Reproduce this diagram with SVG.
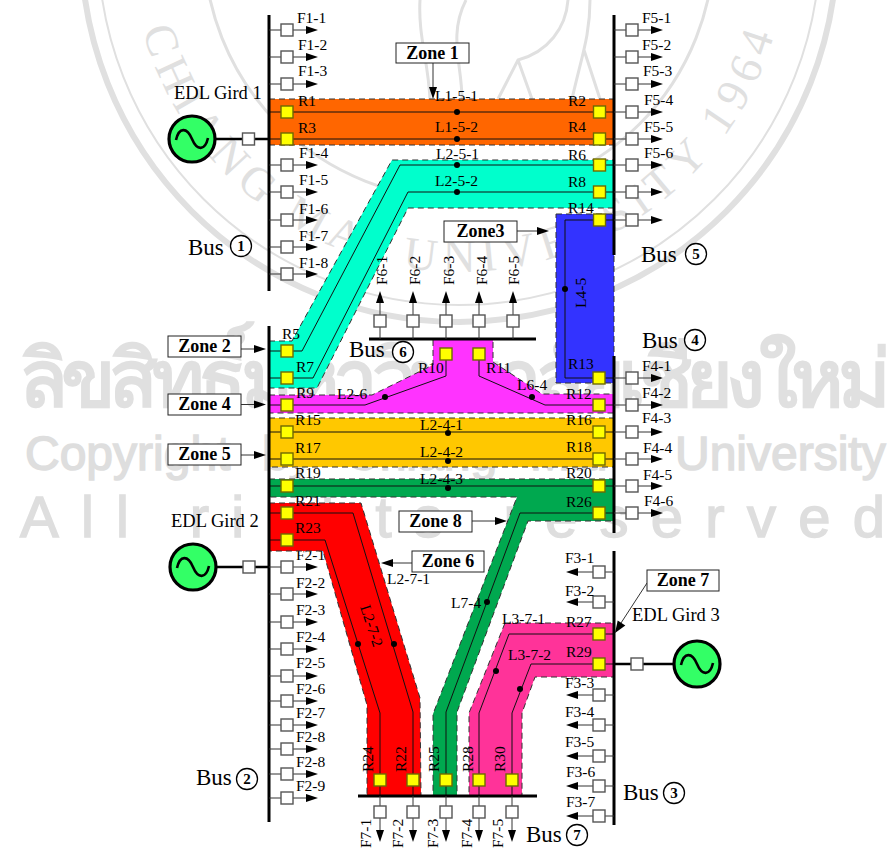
<svg xmlns="http://www.w3.org/2000/svg" width="889" height="848" viewBox="0 0 889 848">
<style>
text{font-family:"Liberation Serif","Times New Roman",serif;fill:#000}
.t{font-size:15.500px}
.e{font-size:18.500px}
.b{font-size:23px}
.z{font-size:18px;font-weight:bold;text-anchor:middle}
.n{font-size:15px;font-weight:bold;text-anchor:middle}
.c{fill:#fff;stroke:#000;stroke-width:1.3}
.bus{stroke:#000;stroke-width:3;fill:none}
.gl{stroke:#000;stroke-width:2.5;fill:none}
.ln{stroke:#111;stroke-width:1;fill:none}
.st{stroke:#333;stroke-width:1;fill:none}
.box{fill:#fff;stroke:#555;stroke-width:1.4}
.rel{fill:#ff0;stroke:#6e6a00;stroke-width:1.4}
.zn{stroke:#333;stroke-width:1;stroke-dasharray:6 4}
.zb{fill:#fff;stroke:#222;stroke-width:1}
.gen{fill:#3f6;stroke:#000;stroke-width:3.2}
.sin{fill:none;stroke:#000;stroke-width:2.6}
.wr{fill:none;stroke:#e0e0e0}
.ws{font-family:"Liberation Sans",Arial,sans-serif;fill:#dedede;stroke:#dedede;stroke-width:1.500}
.dot{fill:#000}
</style>
<defs>
<g id="fr"><path class="st" d="M0 0H12M24 0H37"/><rect class="box" x="12" y="-6" width="12" height="12"/><polygon points="37,-4 49,0 37,4"/></g>
<g id="fl"><path class="st" d="M0 0H-9M-21 0H-36"/><rect class="box" x="-21" y="-6" width="12" height="12"/><polygon points="-36,-4 -48,0 -36,4"/></g>
<g id="fu"><path class="st" d="M0 0V-12M0 -24V-36"/><rect class="box" x="-6" y="-24" width="12" height="12"/><polygon points="-4,-36 0,-48 4,-36"/></g>
<g id="fd"><path class="st" d="M0 0V10M0 22V34"/><rect class="box" x="-6" y="10" width="12" height="12"/><polygon points="-4,34 0,46 4,34"/></g>
<rect id="r" class="rel" x="-6" y="-6" width="12" height="12"/>
<rect id="bx" class="box" x="-6" y="-6" width="12" height="12"/>
<circle id="d" class="dot" r="3"/>
<g id="g"><circle class="gen" r="23"/><path class="sin" d="M-16 1C-13 -12 -5 -12 0 0S13 12 16 -1"/></g>
<path id="sealArc" d="M142.500 30A328 328 0 0 0 775.500 30"/>
</defs>
<rect width="889" height="848" fill="#fff"/>
<g id="watermark">
<circle class="wr" cx="459" cy="-56" r="378" stroke-width="6"/>
<circle class="wr" cx="459" cy="-56" r="361" stroke-width="2"/>
<circle class="wr" cx="459" cy="-56" r="255" stroke-width="3"/>
<path class="wr" stroke-width="3" d="M568 0C566 28 548 52 518 60L498 99M518 60L532 99M590 0C590 35 582 55 572 99M584 50L600 99M420 0C418 35 428 60 430 99M466 0C448 35 462 65 462 99"/>
<text style="font-size:46px;fill:#e0e0e0"><textPath href="#sealArc" textLength="850" lengthAdjust="spacing">CHIANG MAI UNIVERSITY 1964</textPath></text>
<text x="12" y="407" textLength="872" lengthAdjust="spacing" style="font-family:'Noto Sans','Noto Sans CJK SC',sans-serif;font-size:80px;font-weight:bold;fill:#e0e0e0">ลิขสิทธิ์มหาวิทยาลัยเชียงใหม่</text>
<text class="ws" y="470" style="font-size:48px"><tspan x="25">Copyright</tspan><tspan x="262">by</tspan><tspan x="345">Chiang</tspan><tspan x="530">Mai</tspan><tspan x="675">University</tspan></text>
<text class="ws" x="20" y="537" textLength="865" lengthAdjust="spacing" style="font-size:58px">All rights reserved</text>
</g>
<g id="label-F2-1"><text class="t" x="296" y="560">F2-1</text></g>
<g id="zones">
<g id="zone1-area"><polygon class="zn" fill="#ff6600" points="269,99 614,99 614,145 269,145"/></g>
<g id="zone2-area"><polygon class="zn" fill="#00ffcc" points="269,341 292,341 392,160 614,160 614,208 408,208 317,388 269,388"/></g>
<g id="zone3-area"><polygon class="zn" fill="#3333ff" points="556,214 614,214 614,383 556,383"/></g>
<g id="zone4-area"><polygon class="zn" fill="#ff33ff" points="269,395 372,395 433,365 433,339 493,339 493,362 542,394 614,394 614,413 269,413"/></g>
<g id="zone5-area"><polygon class="zn" fill="#ffc800" points="269,418 614,418 614,467 269,467"/></g>
<g id="zone8-area"><polygon class="zn" fill="#00a84f" points="269,479 614,479 614,521 528,521 457,712 457,796 433,796 433,714 517,497 269,497"/></g>
<g id="zone6-area"><polygon class="zn" fill="#ff0000" points="269,503 361,503 420,698 421,796 367,796 367,705 323,551 269,551"/></g>
<g id="zone7-area"><polygon class="zn" fill="#ff3399" points="505,623 614,623 614,677 535,677 522,713 522,796 469,796 469,713"/></g>
</g>
<g id="connectors">
<path class="ln" d="M269 112H614M269 139H614"/>
<path class="ln" d="M614 165H400L302 351H269M614 192H408L313 378H269"/>
<path class="ln" d="M614 220H565V378H614"/>
<path class="ln" d="M269 405H365L446 376V354M479 354V376L545 405H614"/>
<path class="ln" d="M269 432H614M269 459H614M269 486H614"/>
<path class="ln" d="M614 513H520L446 712V796"/>
<path class="ln" d="M269 513H353L413 712V796M269 540H325L380 713V796"/>
<path class="ln" d="M614 634H509L479 713V796M614 664H531L512 713V796"/>
<path class="st" d="M433 63V88M241 349H255M241 404.500H255M241 455H255M517 231H538M472 521H496M412 563H393M647 583L621 623"/>
<polygon points="429,87 437,87 433,99"/>
<polygon points="254,345 254,353 266,349"/>
<polygon points="254,400.500 254,408.500 266,404.500"/>
<polygon points="254,451 254,459 266,455"/>
<polygon points="537,227 537,235 549,231"/>
<polygon points="495,517 495,525 507,521"/>
<polygon points="393,559 393,567 381,563"/>
<polygon points="615,633 625.300,625.400 617.700,620.600"/>
<path class="gl" d="M216 139H269M216 567H269M614 664H673"/>
<use href="#d" x="457" y="112"/><use href="#d" x="457" y="139"/>
<use href="#d" x="457" y="165"/><use href="#d" x="457" y="192"/>
<use href="#d" x="565" y="289"/>
<use href="#d" x="385" y="397"/><use href="#d" x="532" y="397"/>
<use href="#d" x="448" y="433"/><use href="#d" x="448" y="461"/><use href="#d" x="448" y="488"/>
<use href="#d" x="394" y="644"/><use href="#d" x="358" y="644"/>
<use href="#d" x="487" y="602"/>
<use href="#d" x="496" y="671"/><use href="#d" x="520" y="689"/>
</g>
<g id="line-labels">
<text class="t" x="435" y="101">L1-5-1</text><text class="t" x="435" y="132">L1-5-2</text>
<text class="t" x="436" y="159">L2-5-1</text><text class="t" x="435" y="186">L2-5-2</text>
<text class="t" transform="translate(586 308) rotate(-90)">L4-5</text>
<text class="t" x="337" y="399">L2-6</text><text class="t" x="517" y="390">L6-4</text>
<text class="t" x="420" y="430">L2-4-1</text><text class="t" x="420" y="457">L2-4-2</text><text class="t" x="420" y="484">L2-4-3</text>
<text class="t" x="387" y="584">L2-7-1</text>
<text class="t" transform="translate(360 607) rotate(72)">L2-7-2</text>
<text class="t" x="451" y="608">L7-4</text>
<text class="t" x="502" y="624">L3-7-1</text><text class="t" x="508" y="660">L3-7-2</text>
</g>
<g id="relay-labels">
<text class="t" x="298" y="106">R1</text><text class="t" x="298" y="133">R3</text>
<text class="t" x="568" y="106">R2</text><text class="t" x="568" y="132">R4</text>
<text class="t" x="568" y="160">R6</text><text class="t" x="568" y="187">R8</text><text class="t" x="568" y="213">R14</text>
<text class="t" x="282" y="339">R5</text><text class="t" x="296" y="372">R7</text><text class="t" x="296" y="398">R9</text>
<text class="t" x="295" y="425">R15</text><text class="t" x="295" y="453">R17</text><text class="t" x="295" y="478">R19</text>
<text class="t" x="295" y="506">R21</text><text class="t" x="295" y="533">R23</text>
<text class="t" x="418" y="373">R10</text><text class="t" x="486" y="373">R11</text>
<text class="t" x="566" y="399">R12</text><text class="t" x="568" y="369">R13</text>
<text class="t" x="566" y="425">R16</text><text class="t" x="566" y="452">R18</text><text class="t" x="566" y="478">R20</text><text class="t" x="566" y="507">R26</text>
<text class="t" x="566" y="627">R27</text><text class="t" x="566" y="657">R29</text>
<text class="t" transform="translate(373 772) rotate(-90)">R24</text>
<text class="t" transform="translate(406 772) rotate(-90)">R22</text>
<text class="t" transform="translate(439 772) rotate(-90)">R25</text>
<text class="t" transform="translate(473 772) rotate(-90)">R28</text>
<text class="t" transform="translate(505 772) rotate(-90)">R30</text>
</g>
<g id="bus1">
<path class="bus" d="M269 15V291"/>
<use href="#fr" x="269" y="30"/><use href="#fr" x="269" y="57"/><use href="#fr" x="269" y="84"/>
<use href="#fr" x="269" y="165"/><use href="#fr" x="269" y="192"/><use href="#fr" x="269" y="220"/><use href="#fr" x="269" y="247"/><use href="#fr" x="269" y="274"/>
<use href="#r" x="287" y="112"/><use href="#r" x="287" y="139"/>
<text class="t" x="297" y="23">F1-1</text><text class="t" x="298" y="50">F1-2</text><text class="t" x="298" y="76">F1-3</text>
<text class="t" x="299" y="158">F1-4</text><text class="t" x="299" y="185">F1-5</text><text class="t" x="299" y="214">F1-6</text><text class="t" x="299" y="241">F1-7</text><text class="t" x="299" y="268">F1-8</text>
<text class="b" x="188" y="255">Bus</text><circle class="c" cx="241" cy="246" r="10.500"/><text class="n" x="241" y="251">1</text>
</g>
<g id="bus5">
<path class="bus" d="M614 15V255"/>
<use href="#fr" x="614" y="30"/><use href="#fr" x="614" y="57"/><use href="#fr" x="614" y="84"/><use href="#fr" x="614" y="112"/><use href="#fr" x="614" y="139"/><use href="#fr" x="614" y="165"/><use href="#fr" x="614" y="192"/><use href="#fr" x="614" y="220"/>
<use href="#r" x="599.500" y="112"/><use href="#r" x="599.500" y="139"/><use href="#r" x="599.500" y="165"/><use href="#r" x="599.500" y="192"/><use href="#r" x="599.500" y="220"/>
<text class="t" x="642" y="23">F5-1</text><text class="t" x="642" y="50">F5-2</text><text class="t" x="643" y="76">F5-3</text><text class="t" x="644" y="105">F5-4</text><text class="t" x="644" y="132">F5-5</text><text class="t" x="644" y="158">F5-6</text>
<text class="b" x="641" y="262">Bus</text><circle class="c" cx="696" cy="254" r="10.500"/><text class="n" x="696" y="259">5</text>
</g>
<g id="bus4">
<path class="bus" d="M614 356V533"/>
<use href="#fr" x="614" y="378"/><use href="#fr" x="614" y="405"/><use href="#fr" x="614" y="432"/><use href="#fr" x="614" y="459"/><use href="#fr" x="614" y="486"/><use href="#fr" x="614" y="513"/>
<use href="#r" x="599" y="378"/><use href="#r" x="599" y="405"/><use href="#r" x="599" y="432"/><use href="#r" x="599" y="459"/><use href="#r" x="599" y="486"/><use href="#r" x="599" y="513"/>
<text class="t" x="642" y="371">F4-1</text><text class="t" x="642" y="398">F4-2</text><text class="t" x="642" y="423">F4-3</text><text class="t" x="643" y="453">F4-4</text><text class="t" x="643" y="480">F4-5</text><text class="t" x="644" y="506">F4-6</text>
<text class="b" x="642" y="348">Bus</text><circle class="c" cx="695" cy="340" r="10.500"/><text class="n" x="695" y="345">4</text>
</g>
<g id="bus2">
<path class="bus" d="M269 326V822"/>
<use href="#r" x="287" y="351"/><use href="#r" x="287" y="378"/><use href="#r" x="287" y="405"/><use href="#r" x="287" y="432"/><use href="#r" x="287" y="459"/><use href="#r" x="287" y="486"/><use href="#r" x="287" y="513"/><use href="#r" x="287" y="540"/>
<use href="#fr" x="269" y="567"/><use href="#fr" x="269" y="594"/><use href="#fr" x="269" y="622"/><use href="#fr" x="269" y="649"/><use href="#fr" x="269" y="676"/><use href="#fr" x="269" y="701"/><use href="#fr" x="269" y="725"/><use href="#fr" x="269" y="749"/><use href="#fr" x="269" y="774"/><use href="#fr" x="269" y="798"/>
<text class="t" x="296" y="588">F2-2</text><text class="t" x="296" y="615">F2-3</text><text class="t" x="296" y="642">F2-4</text><text class="t" x="296" y="668">F2-5</text><text class="t" x="296" y="694">F2-6</text><text class="t" x="296" y="718">F2-7</text><text class="t" x="296" y="742">F2-8</text><text class="t" x="296" y="767">F2-8</text><text class="t" x="296" y="791">F2-9</text>
<text class="b" x="196" y="785">Bus</text><circle class="c" cx="247" cy="779" r="10.500"/><text class="n" x="247" y="784">2</text>
</g>
<g id="bus3">
<path class="bus" d="M614 551V825"/>
<use href="#fl" x="614" y="572"/><use href="#fl" x="614" y="602"/><use href="#fl" x="614" y="695"/><use href="#fl" x="614" y="725"/><use href="#fl" x="614" y="756"/><use href="#fl" x="614" y="786"/><use href="#fl" x="614" y="816"/>
<use href="#r" x="599" y="634"/><use href="#r" x="599" y="664"/>
<text class="t" x="565" y="563">F3-1</text><text class="t" x="565" y="596">F3-2</text><text class="t" x="565" y="688">F3-3</text><text class="t" x="565" y="717">F3-4</text><text class="t" x="565" y="747">F3-5</text><text class="t" x="566" y="777">F3-6</text><text class="t" x="566" y="807">F3-7</text>
<text class="b" x="623" y="800">Bus</text><circle class="c" cx="674" cy="793" r="10.500"/><text class="n" x="674" y="798">3</text>
</g>
<g id="bus6">
<path class="bus" d="M369 339H536"/>
<use href="#fu" x="380" y="339"/><use href="#fu" x="413" y="339"/><use href="#fu" x="446" y="339"/><use href="#fu" x="479" y="339"/><use href="#fu" x="513" y="339"/>
<use href="#r" x="446" y="354"/><use href="#r" x="479" y="354"/>
<text class="t" transform="translate(387 285) rotate(-90)">F6-1</text><text class="t" transform="translate(420 285) rotate(-90)">F6-2</text><text class="t" transform="translate(454 285) rotate(-90)">F6-3</text><text class="t" transform="translate(487 285) rotate(-90)">F6-4</text><text class="t" transform="translate(519 285) rotate(-90)">F6-5</text>
<text class="b" x="349" y="357">Bus</text><circle class="c" cx="403" cy="352" r="10.500"/><text class="n" x="403" y="357">6</text>
</g>
<g id="bus7">
<path class="bus" d="M358 796H537"/>
<use href="#fd" x="380" y="796"/><use href="#fd" x="413" y="796"/><use href="#fd" x="446" y="796"/><use href="#fd" x="479" y="796"/><use href="#fd" x="512" y="796"/>
<use href="#r" x="380" y="780"/><use href="#r" x="413" y="780"/><use href="#r" x="446" y="780"/><use href="#r" x="479" y="780"/><use href="#r" x="512" y="780"/>
<text class="t" transform="translate(371 848) rotate(-90)">F7-1</text><text class="t" transform="translate(403 848) rotate(-90)">F7-2</text><text class="t" transform="translate(438 848) rotate(-90)">F7-3</text><text class="t" transform="translate(472 848) rotate(-90)">F7-4</text><text class="t" transform="translate(503 848) rotate(-90)">F7-5</text>
<text class="b" x="526" y="842">Bus</text><circle class="c" cx="577" cy="835" r="10.500"/><text class="n" x="577" y="840">7</text>
</g>
<g id="gen1"><use href="#g" x="192" y="139"/><use href="#bx" x="248.500" y="139"/><text class="e" x="174" y="99">EDL Gird 1</text></g>
<g id="gen2"><use href="#g" x="193" y="567"/><use href="#bx" x="249" y="567"/><text class="e" x="171" y="527">EDL Gird 2</text></g>
<g id="gen3"><use href="#g" x="697" y="664"/><use href="#bx" x="637" y="664"/><text class="e" x="632" y="621">EDL Gird 3</text></g>
<g id="zone1"><rect class="zb" x="396" y="43" width="73" height="20"/><text class="z" x="432.500" y="59">Zone 1</text></g>
<g id="zone2"><rect class="zb" x="168" y="336" width="73" height="21"/><text class="z" x="204.500" y="352">Zone 2</text></g>
<g id="zone3"><rect class="zb" x="444" y="221" width="73" height="21"/><text class="z" x="480.500" y="237">Zone3</text></g>
<g id="zone4"><rect class="zb" x="168" y="394" width="73" height="21"/><text class="z" x="204.500" y="410">Zone 4</text></g>
<g id="zone5"><rect class="zb" x="168" y="444" width="73" height="21"/><text class="z" x="204.500" y="460">Zone 5</text></g>
<g id="zone6"><rect class="zb" x="412" y="551" width="72" height="21"/><text class="z" x="448" y="567">Zone 6</text></g>
<g id="zone7"><rect class="zb" x="647" y="570" width="72" height="21"/><text class="z" x="683" y="586">Zone 7</text></g>
<g id="zone8"><rect class="zb" x="399" y="511" width="73" height="21"/><text class="z" x="435.500" y="527">Zone 8</text></g>
</svg>
